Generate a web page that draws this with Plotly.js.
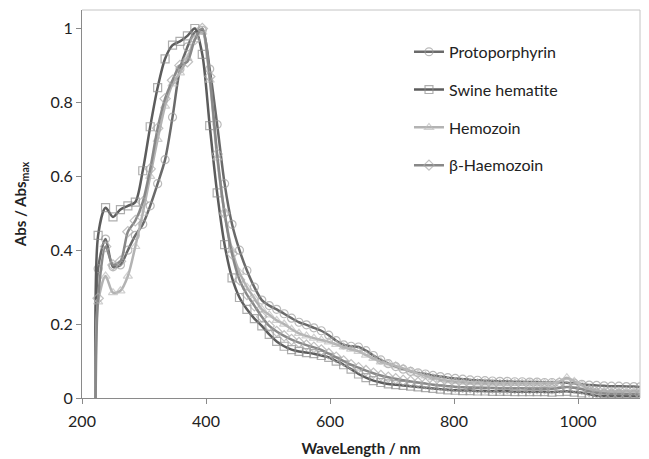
<!DOCTYPE html>
<html>
<head>
<meta charset="utf-8">
<script src="https://cdn.plot.ly/plotly-3.0.1.min.js"></script>
<style>
  html, body { margin: 0; padding: 0; background: #ffffff; }
  #chart { width: 649px; height: 459px; }
</style>
</head>
<body>
<div id="chart"></div>
<script>
// Wavelength grid (nm)
const wavelength = [222, 226, 238, 250, 262, 274, 286, 298, 310, 322, 334, 346, 358, 370, 382, 394,
  406, 418, 430, 442, 454, 466, 478, 490, 502, 514, 526, 538, 550, 562, 574, 586, 598, 610, 622,
  634, 646, 658, 670, 682, 694, 706, 718, 730, 742, 754, 766, 778, 790, 802, 814, 826, 838, 850,
  862, 874, 886, 898, 910, 922, 934, 946, 958, 970, 982, 994, 1006, 1018, 1030, 1042, 1054, 1066,
  1078, 1090, 1100];

const protoporphyrin = [0, 0.35, 0.43, 0.355, 0.36, 0.40, 0.44, 0.47, 0.52, 0.58, 0.645, 0.76, 0.89, 0.95, 0.99, 0.995,
  0.89, 0.74, 0.58, 0.47, 0.40, 0.345, 0.30, 0.265, 0.25, 0.24, 0.228, 0.216, 0.205, 0.198, 0.19, 0.182, 0.17, 0.155, 0.144,
  0.14, 0.138, 0.128, 0.115, 0.103, 0.093, 0.085, 0.078, 0.072, 0.068, 0.065, 0.061, 0.058, 0.055, 0.053, 0.051, 0.049, 0.048, 0.047,
  0.046, 0.045, 0.045, 0.044, 0.044, 0.043, 0.043, 0.042, 0.042, 0.042, 0.041, 0.040, 0.037, 0.035, 0.034, 0.033, 0.032, 0.032,
  0.031, 0.031, 0.030];

const swineHematite = [0, 0.44, 0.515, 0.49, 0.51, 0.52, 0.53, 0.615, 0.734, 0.84, 0.918, 0.955, 0.965, 0.98, 1.0, 0.93,
  0.737, 0.555, 0.415, 0.325, 0.272, 0.24, 0.215, 0.195, 0.172, 0.153, 0.14, 0.131, 0.126, 0.123, 0.12, 0.115, 0.11, 0.10, 0.09,
  0.078, 0.065, 0.055, 0.047, 0.042, 0.038, 0.036, 0.034, 0.032, 0.030, 0.028, 0.026, 0.024, 0.022, 0.021, 0.020, 0.020, 0.019, 0.019,
  0.018, 0.018, 0.018, 0.017, 0.017, 0.017, 0.017, 0.017, 0.016, 0.017, 0.018, 0.016, 0.014, 0.010, 0.006, 0.005, 0.005, 0.005,
  0.005, 0.005, 0.005];

const hemozoin = [0, 0.26, 0.33, 0.285, 0.29, 0.33, 0.41, 0.50, 0.60, 0.70, 0.79, 0.85, 0.88, 0.92, 0.97, 0.99,
  0.86, 0.65, 0.50, 0.40, 0.34, 0.30, 0.27, 0.24, 0.225, 0.21, 0.20, 0.186, 0.175, 0.168, 0.162, 0.157, 0.152, 0.145, 0.138,
  0.132, 0.126, 0.116, 0.107, 0.098, 0.092, 0.087, 0.080, 0.073, 0.066, 0.060, 0.055, 0.050, 0.047, 0.045, 0.043, 0.042, 0.041, 0.041,
  0.040, 0.040, 0.040, 0.040, 0.040, 0.040, 0.040, 0.040, 0.040, 0.045, 0.055, 0.045, 0.035, 0.025, 0.020, 0.019, 0.018, 0.018,
  0.018, 0.018, 0.018];

const betaHaemozoin = [0, 0.27, 0.41, 0.36, 0.37, 0.45, 0.48, 0.53, 0.62, 0.73, 0.81, 0.86, 0.90, 0.91, 0.97, 1.0,
  0.87, 0.66, 0.50, 0.39, 0.32, 0.28, 0.25, 0.22, 0.195, 0.18, 0.168, 0.158, 0.15, 0.143, 0.137, 0.13, 0.12, 0.11, 0.10,
  0.09, 0.082, 0.074, 0.067, 0.061, 0.056, 0.052, 0.048, 0.045, 0.042, 0.039, 0.036, 0.034, 0.032, 0.030, 0.029, 0.028, 0.028, 0.027,
  0.027, 0.026, 0.026, 0.026, 0.026, 0.025, 0.025, 0.025, 0.025, 0.027, 0.030, 0.028, 0.024, 0.018, 0.014, 0.012, 0.011, 0.011,
  0.010, 0.010, 0.010];

const seriesNames = ['Protoporphyrin', 'Swine hematite', 'Hemozoin', '\u03B2-Haemozoin'];
const seriesValues = [protoporphyrin, swineHematite, hemozoin, betaHaemozoin];
const xTickVals = [200, 400, 600, 800, 1000];
const yTickVals = [0, 0.2, 0.4, 0.6, 0.8, 1];

const styles = [
  { line: '#6a6a6a', marker: '#9c9c9c', symbol: 'circle-open' },
  { line: '#5c5c5c', marker: '#8c8c8c', symbol: 'square-open' },
  { line: '#b3b3b3', marker: '#bcbcbc', symbol: 'triangle-up-open' },
  { line: '#888888', marker: '#a8a8a8', symbol: 'diamond-open' }
];

const FONT = 'Lato, "Open Sans", sans-serif';

const traces = seriesValues.map((vals, i) => ({
  type: 'scatter',
  mode: 'lines+markers',
  name: seriesNames[i],
  legendgroup: 'g' + i,
  x: wavelength,
  y: vals,
  line: { color: styles[i].line, width: 2.5, shape: 'spline', smoothing: 0.8 },
  marker: {
    symbol: styles[i].symbol,
    size: wavelength.map((w, k) => (k === 0 ? 0 : 8)),
    color: styles[i].marker,
    line: { color: styles[i].marker, width: 1.2 }
  }
}));

const layout = {
  width: 649,
  height: 459,
  margin: { l: 82, r: 9, t: 10, b: 61 },
  paper_bgcolor: '#ffffff',
  plot_bgcolor: '#ffffff',
  font: { family: FONT, size: 16, color: '#222222' },
  showlegend: true,
  legend: {
    x: 0.586, y: 0.936, xanchor: 'left', yanchor: 'top',
    bgcolor: 'rgba(0,0,0,0)', borderwidth: 0,
    font: { family: FONT, size: 16, color: '#222222' },
    tracegroupgap: 14
  },
  xaxis: {
    range: [200, 1100],
    tickvals: xTickVals,
    ticks: 'outside', ticklen: 5, tickcolor: '#8a8a8a', tickwidth: 1,
    ticklabelstandoff: 4,
    showline: true, linecolor: '#8a8a8a', linewidth: 1,
    showgrid: false, zeroline: false,
    tickfont: { family: FONT, size: 16, color: '#222222' },
    title: { text: '<b>WaveLength / nm</b>', font: { family: FONT, size: 15, color: '#222222' }, standoff: 14 }
  },
  yaxis: {
    range: [0, 1.05],
    tickvals: yTickVals,
    ticks: 'outside', ticklen: 5, tickcolor: '#8a8a8a', tickwidth: 1,
    showline: true, linecolor: '#8a8a8a', linewidth: 1,
    showgrid: false, zeroline: false,
    tickfont: { family: FONT, size: 16, color: '#222222' },
    title: { text: '<b>Abs / Abs<sub>max</sub></b>', font: { family: FONT, size: 15, color: '#222222' }, standoff: 20 }
  },
  shapes: [
    { type: 'line', xref: 'paper', yref: 'paper', x0: 0, x1: 1, y0: 1, y1: 1, line: { color: '#c4c4c4', width: 1 } },
    { type: 'line', xref: 'paper', yref: 'paper', x0: 1, x1: 1, y0: 0, y1: 1, line: { color: '#c4c4c4', width: 1 } }
  ]
};

Plotly.newPlot('chart', traces, layout, { displayModeBar: false, staticPlot: true });
</script>
</body>
</html>
